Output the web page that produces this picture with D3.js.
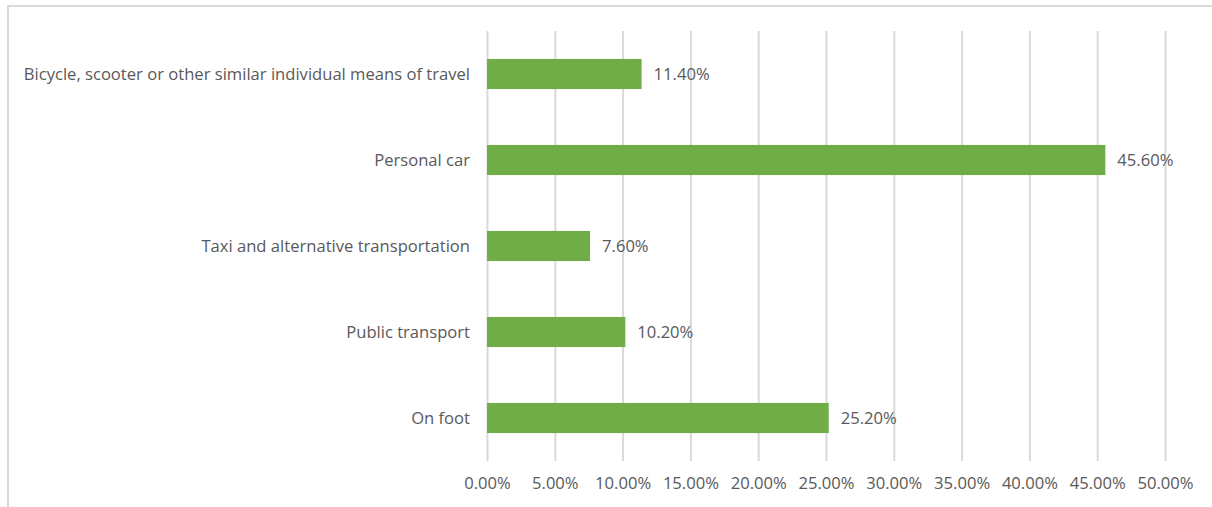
<!DOCTYPE html>
<html>
<head>
<meta charset="utf-8">
<script src="https://cdn.jsdelivr.net/npm/d3@7"></script>
<style>
  body { margin: 0; background: #fff; }
  svg { display: block; font-family: "Open Sans", "Liberation Sans", Arial, sans-serif; }
</style>
</head>
<body>
<svg width="1212" height="507"></svg>
<script>
const categories = [
  'Bicycle, scooter or other similar individual means of travel',
  'Personal car',
  'Taxi and alternative transportation',
  'Public transport',
  'On foot'
];
const values = [11.4, 45.6, 7.6, 10.2, 25.2];
const tickValues = [0, 5, 10, 15, 20, 25, 30, 35, 40, 45, 50];

const svg = d3.select('svg');
const margin = { top: 31, left: 487 };
const fontSize = '16.6px';

// outer frame (top and left edges visible)
svg.append('line')
  .attr('x1', 8).attr('x2', 1212)
  .attr('y1', 6).attr('y2', 6)
  .attr('stroke', '#d9d9d9')
  .attr('stroke-width', 2);
svg.append('line')
  .attr('x1', 8).attr('x2', 8)
  .attr('y1', 5).attr('y2', 507)
  .attr('stroke', '#d9d9d9')
  .attr('stroke-width', 2);

const g = svg.append('g')
  .attr('transform', `translate(${margin.left},${margin.top})`);

const xScale = d3.scaleLinear()
  .domain([0, 50])
  .range([0, 678]);

const yScale = d3.scaleBand()
  .domain(categories)
  .range([0, 430])
  .paddingInner(0.65)
  .paddingOuter(0.325);

// gridlines
const xAxis = d3.axisBottom(xScale)
  .tickValues(tickValues)
  .tickSize(-430)
  .tickPadding(16)
  .tickFormat(d => d.toFixed(2) + '%');

const xAxisG = g.append('g').call(xAxis)
  .attr('transform', `translate(0,430)`);
xAxisG.select('.domain').remove();
xAxisG.selectAll('line')
  .attr('stroke', '#d9d9d9')
  .attr('stroke-width', 2);
xAxisG.selectAll('text')
  .attr('fill', '#595959')
  .attr('font-size', fontSize)
  .attr('font-family', '"Open Sans", "Liberation Sans", Arial, sans-serif');

// category labels
g.append('g')
  .selectAll('text')
  .data(categories)
  .enter()
  .append('text')
  .attr('x', -17)
  .attr('y', d => yScale(d) + yScale.bandwidth() / 2)
  .attr('dy', '0.35em')
  .attr('text-anchor', 'end')
  .attr('fill', '#595959')
  .attr('font-size', fontSize)
  .text(d => d);

// bars
g.append('g')
  .selectAll('rect')
  .data(values)
  .enter()
  .append('rect')
  .attr('x', xScale(0))
  .attr('y', (d, i) => yScale(categories[i]))
  .attr('width', d => xScale(d) - xScale(0))
  .attr('height', yScale.bandwidth())
  .attr('fill', '#70ad47');

// value labels
g.append('g')
  .selectAll('text')
  .data(values)
  .enter()
  .append('text')
  .attr('x', d => xScale(d) + 12)
  .attr('y', (d, i) => yScale(categories[i]) + yScale.bandwidth() / 2)
  .attr('dy', '0.35em')
  .attr('fill', '#595959')
  .attr('font-size', fontSize)
  .text(d => d.toFixed(2) + '%');
</script>
</body>
</html>
